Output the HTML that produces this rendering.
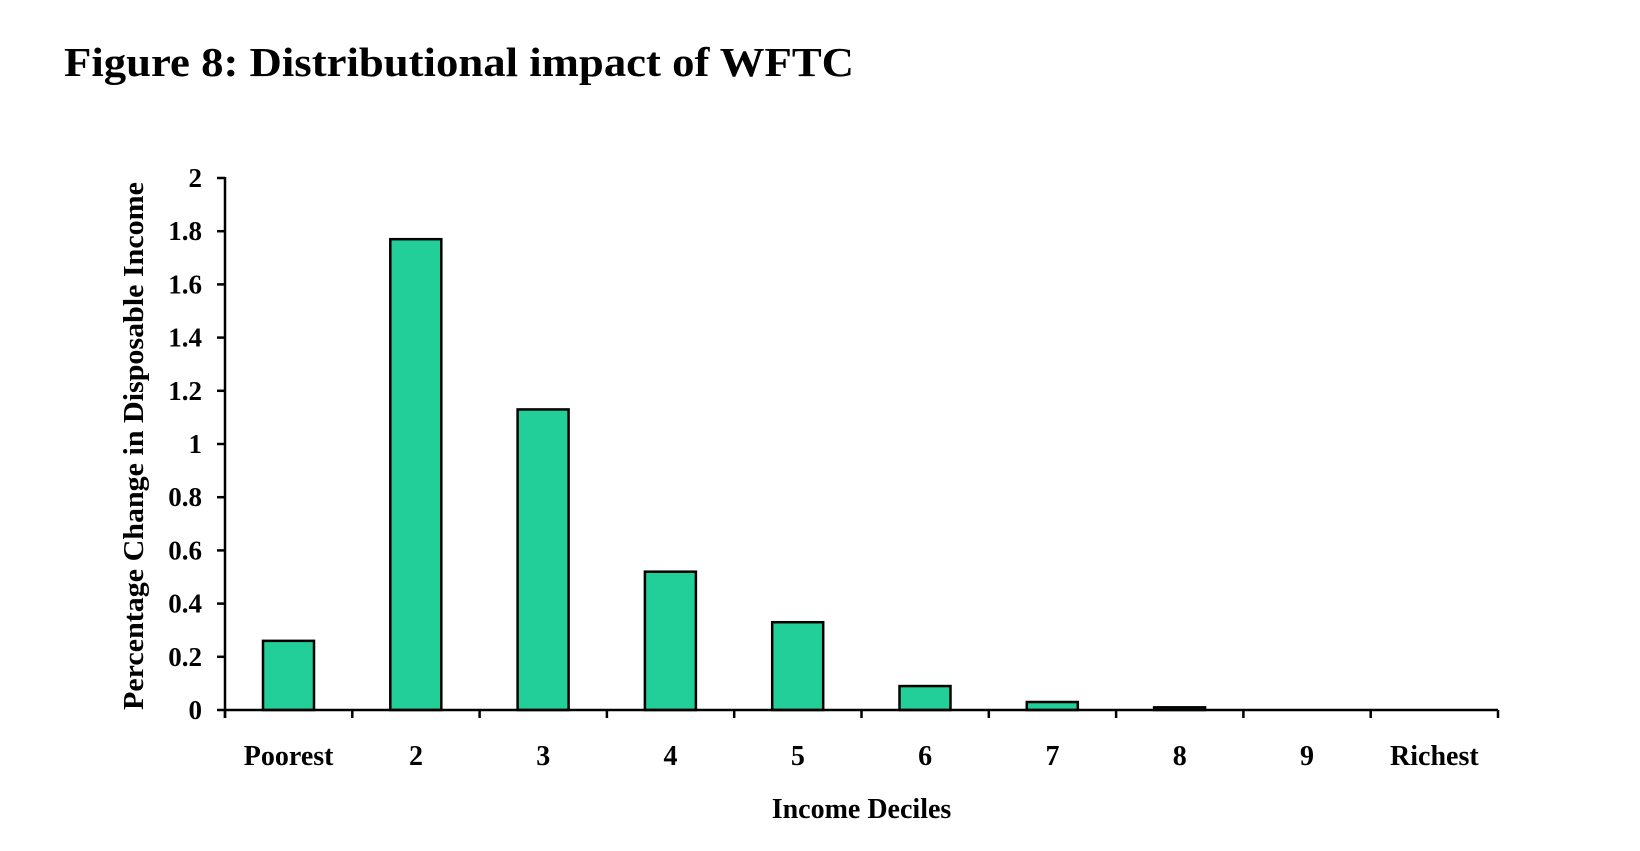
<!DOCTYPE html>
<html><head><meta charset="utf-8"><style>
body{margin:0;background:#fff;}
svg text{font-family:"Liberation Serif",serif;font-weight:bold;fill:#000;}
</style></head><body>
<svg width="1640" height="846">
<text x="64" y="76" font-size="41" textLength="790" lengthAdjust="spacingAndGlyphs">Figure 8: Distributional impact of WFTC</text>
<g id="plot"></g>
</svg>
<script>
const categories=["Poorest","2","3","4","5","6","7","8","9","Richest"];
const values=[0.26,1.77,1.13,0.52,0.33,0.09,0.03,0.01,0,0];
const yTicks=[0,0.2,0.4,0.6,0.8,1,1.2,1.4,1.6,1.8,2];
const yTickLabels=["0","0.2","0.4","0.6","0.8","1","1.2","1.4","1.6","1.8","2"];
const X0=225,X1=1498,Y0=710,Y1=178,YMAX=2;
const catW=(X1-X0)/categories.length;
const y=v=>Y0-(v/YMAX)*(Y0-Y1);
const xc=i=>X0+catW*i;
const g=document.getElementById('plot');
const NS="http://www.w3.org/2000/svg";
function mk(t,a){const e=document.createElementNS(NS,t);for(const k in a)e.setAttribute(k,a[k]);g.appendChild(e);return e;}
values.forEach((v,i)=>{
 const h=Y0-y(v);
 if(h<=0)return;
 const r=mk('rect',{x:xc(i)+38,y:y(v),width:51,height:h,fill:'#22cf98',stroke:'#000','stroke-width':2.5});
 
 
});
let a=mk('line',{x1:X0,y1:Y1-1,x2:X0,y2:Y0+8,stroke:'#000','stroke-width':2.5});


a=mk('line',{x1:X0,y1:Y0,x2:X1,y2:Y0,stroke:'#000','stroke-width':2.5});


yTicks.forEach((t,i)=>{
 mk('line',{x1:X0-8,y1:y(t),x2:X0,y2:y(t),stroke:'#000','stroke-width':2.5});
 const tx=mk('text',{x:202,y:y(t)+9,'font-size':27,'text-anchor':'end'});
 tx.textContent=yTickLabels[i];
 
 
});
for(let i=0;i<=categories.length;i++){mk('line',{x1:xc(i),y1:Y0,x2:xc(i),y2:Y0+8,stroke:'#000','stroke-width':2.5});}
categories.forEach((c,i)=>{
 const tx=mk('text',{x:xc(i)+catW/2,y:765,'font-size':28,'text-anchor':'middle'});
 tx.textContent=c;
 
 
});
let t=mk('text',{x:(X0+X1)/2,y:818,'font-size':28,'text-anchor':'middle'});
t.textContent="Income Deciles";


t=mk('text',{x:0,y:0,'font-size':28,'text-anchor':'middle',textLength:528,lengthAdjust:'spacingAndGlyphs',transform:'translate(143,446) rotate(-90)'});
t.textContent="Percentage Change in Disposable Income";


</script>
</body></html>
